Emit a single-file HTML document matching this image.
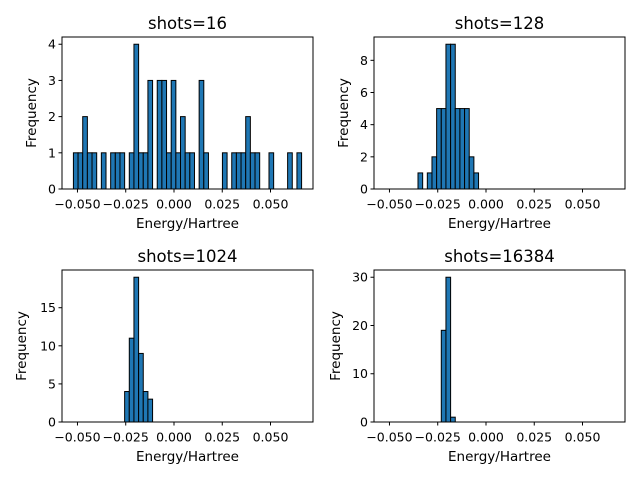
<!DOCTYPE html>
<html><head><meta charset="utf-8"><style>
body{margin:0;background:#fff;}
svg{display:block;font-family:"DejaVu Sans","Liberation Sans",sans-serif;}
</style></head><body>
<svg id="fig" width="640" height="480"></svg>
<script>
const binLo = -0.0521;
const binHi = 0.0661;
const nBins = 49;
const titles = ["shots=16","shots=128","shots=1024","shots=16384"];
const counts16 = [1,1,2,1,1,0,1,0,1,1,1,0,1,4,1,1,3,0,3,3,1,3,1,2,1,1,0,3,1,0,0,0,1,0,1,1,1,2,1,1,0,0,1,0,0,0,1,0,1];
const counts128 = {7:1,9:1,10:2,11:5,12:5,13:9,14:9,15:5,16:5,17:5,18:2,19:1};
const counts1024 = {11:4,12:11,13:19,14:9,15:4,16:3};
const counts16384 = {12:19,13:30,14:1};
const yTicks16 = [0,1,2,3,4];
const yTicks128 = [0,2,4,6,8];
const yTicks1024 = [0,5,10,15];
const yTicks16384 = [0,10,20,30];
const xTicks = [-0.05,-0.025,0,0.025,0.05];
const xTickLabels = ["−0.050","−0.025","0.000","0.025","0.050"];

function toArr(c){ if(Array.isArray(c)) return c; const a=new Array(nBins).fill(0); for(const k in c) a[+k]=c[k]; return a; }
const panels = [
 {x:62,y:37,c:toArr(counts16),t:yTicks16,yl:31},
 {x:374,y:37,c:toArr(counts128),t:yTicks128,yl:343},
 {x:62,y:270,c:toArr(counts1024),t:yTicks1024,yl:21},
 {x:374,y:270,c:toArr(counts16384),t:yTicks16384,yl:335}
];
const W=251,H=152;
const svg=document.getElementById('fig');
const NS="http://www.w3.org/2000/svg";
function mk(tag,attrs,parent){const e=document.createElementNS(NS,tag);for(const k in attrs)e.setAttribute(k,attrs[k]);(parent||svg).appendChild(e);return e;}
const span=binHi-binLo, xmin=binLo-0.05*span, xmax=binHi+0.05*span;
panels.forEach((p,i)=>{
  const g=mk('g',{});
  
  
  const ymax=Math.max(...p.c)*1.05;
  const sx=v=>p.x+(v-xmin)/(xmax-xmin)*W;
  const sy=v=>p.y+H-v/ymax*H;
  const bw=span/nBins;
  p.c.forEach((v,j)=>{
    if(v<=0) return;
    const x0=sx(binLo+j*bw), x1=sx(binLo+(j+1)*bw);
    const r=mk('rect',{x:x0,y:sy(v),width:x1-x0,height:sy(0)-sy(v),fill:'#1f77b4',stroke:'#000','stroke-width':1},g);
    
    
  });
  const fr=mk('rect',{x:p.x,y:p.y,width:W,height:H,fill:'none',stroke:'#000','stroke-width':1},g);
  
  
  xTicks.forEach((v,k)=>{
    const x=sx(v);
    mk('line',{x1:x,x2:x,y1:p.y+H,y2:p.y+H+3.5,stroke:'#000'},g);
    const t=mk('text',{x:x,y:p.y+H+19.5,'text-anchor':'middle','font-size':12.5},g);
    t.textContent=xTickLabels[k];
    
    
  });
  p.t.forEach(v=>{
    const y=sy(v);
    mk('line',{x1:p.x-3.5,x2:p.x,y1:y,y2:y,stroke:'#000'},g);
    const t=mk('text',{x:p.x-6,y:y+4.5,'text-anchor':'end','font-size':12.5},g);
    t.textContent=v;
    
    
  });
  const tt=mk('text',{x:p.x+W/2,y:p.y-8,'text-anchor':'middle','font-size':16.5},g);
  tt.textContent=titles[i];
  
  
  const xl=mk('text',{x:p.x+W/2,y:p.y+H+39,'text-anchor':'middle','font-size':13.5},g);
  xl.textContent='Energy/Hartree';
  
  
  const bx=p.yl+5;
  const yl=mk('text',{x:bx,y:p.y+H/2,'text-anchor':'middle','font-size':13.5,transform:`rotate(-90 ${bx} ${p.y+H/2})`},g);
  yl.textContent='Frequency';
  
  
});
</script>
</body></html>
